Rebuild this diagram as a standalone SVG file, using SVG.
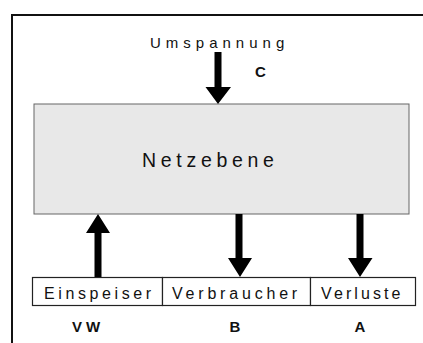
<svg xmlns="http://www.w3.org/2000/svg" width="423" height="343" viewBox="0 0 423 343">
<style>
.t{font-family:"Liberation Sans",Arial,sans-serif;fill:#111}
.lbl{font-family:"Liberation Sans",Arial,sans-serif;font-weight:bold;font-size:15px;fill:#111}
.box{fill:#fff;stroke:#222;stroke-width:1.2}
.arr{fill:#000}
</style>
<rect x="0" y="0" width="423" height="343" fill="#fff"/>
<path d="M12 343 V15 H430" fill="none" stroke="#111" stroke-width="2"/>
<g id="umspannung">
<text class="t" x="150" y="47.5" font-size="15" letter-spacing="5">Umspannung</text>
<text class="lbl" x="255" y="77">C</text>
</g>
<g id="netzebene">
<rect x="34" y="104" width="375" height="110" fill="#e8e8e8" stroke="#666" stroke-width="1"/>
<text class="t" x="142" y="167" font-size="19.5" letter-spacing="4.7">Netzebene</text>
</g>
<g id="einspeiser">
<rect class="box" x="32.5" y="277.5" width="130" height="28"/>
<text class="t" x="44" y="299" font-size="16" letter-spacing="3.6">Einspeiser</text>
<text class="lbl" x="72" y="332" letter-spacing="4">VW</text>
</g>
<g id="verbraucher">
<rect class="box" x="162.5" y="277.5" width="148" height="28"/>
<text class="t" x="172" y="299" font-size="16" letter-spacing="3.8">Verbraucher</text>
<text class="lbl" x="235" y="332" text-anchor="middle">B</text>
</g>
<g id="verluste">
<rect class="box" x="310.5" y="277.5" width="105" height="28"/>
<text class="t" x="321" y="299" font-size="16" letter-spacing="3.1">Verluste</text>
<text class="lbl" x="360" y="332" text-anchor="middle">A</text>
</g>
<g id="connectors">
<path class="arr" d="M214.5 52 H221.5 V87 H231 L218 104 L205.5 87 H214.5 Z"/>
<path class="arr" d="M94.5 277 H101.5 V233 H110 L98 214 L86 233 H94.5 Z"/>
<path class="arr" d="M235.5 214 H242.5 V258 H252 L240 277 L228 258 H235.5 Z"/>
<path class="arr" d="M356.5 214 H363.5 V258 H372.5 L360 277 L348 258 H356.5 Z"/>
</g>
</svg>
